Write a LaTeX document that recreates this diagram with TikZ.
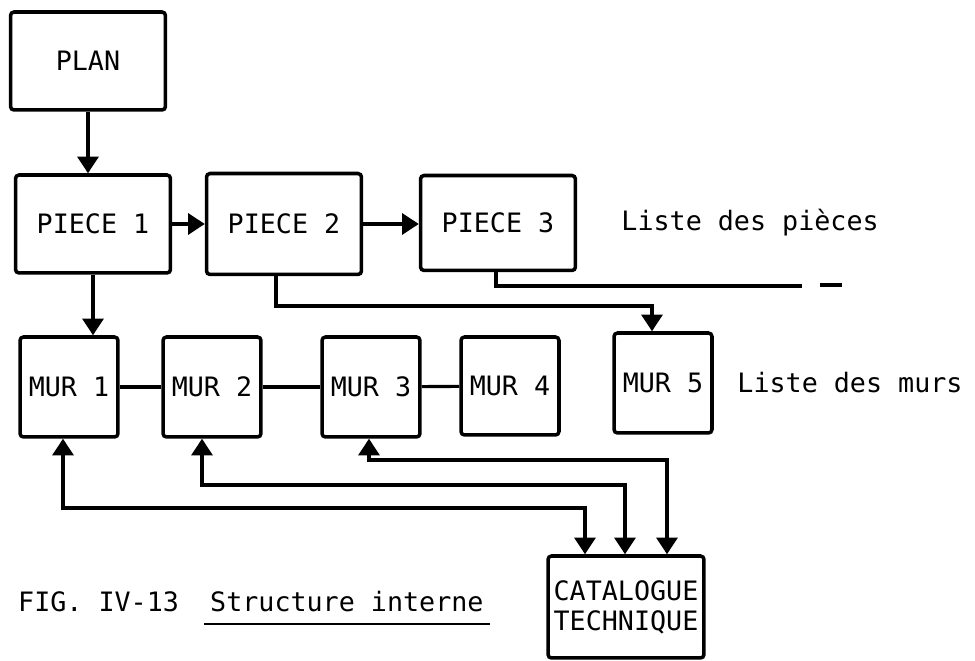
\documentclass[tikz,border=0pt]{standalone}
\usepackage{fontspec}
\setmonofont{DejaVu Sans Mono}
\usepackage{tikz}
\usetikzlibrary{arrows.meta,positioning,calc}
\tikzset{
  >={Triangle[length=9.5pt,width=12pt]},
  block/.style={rectangle,draw,line width=2pt,rounded corners=2pt,minimum width=3.1cm,minimum height=1.96cm},
  wall/.style={block,minimum width=1.96cm,minimum height=2cm},
  link/.style={line width=1.8pt},
  edge/.style={link,->},
  both/.style={link,<->},
  label/.style={anchor=west}
}

\begin{document}
\begin{tikzpicture}[x=0.02cm,y=-0.02cm,font=\ttfamily\fontsize{15.2}{17}\selectfont]
  \useasboundingbox (0,0) rectangle (975,661);

  % Plan and list of rooms
  \node[block] (plan) at (88,61) {PLAN};
  \node[block] (piece1) at (93,224) {PIECE 1};
  \node[block,minimum height=2.02cm] (piece2) at (284,224) {PIECE 2};
  \node[block,minimum height=1.9cm] (piece3) at (498,223) {PIECE 3};
  \node[label,right=0.76cm of piece3] (pieces) {Liste des pi\`eces};

  % List of walls
  \node[wall] (mur1) at (69,387) {MUR 1};
  \node[wall] (mur2) at (212,387) {MUR 2};
  \node[wall] (mur3) at (371,387) {MUR 3};
  \node[wall,minimum height=1.96cm] (mur4) at (510,386) {MUR 4};
  \node[wall] (mur5) at (663,383) {MUR 5};
  \node[label,right=0.35cm of mur5] (murs) {Liste des murs};

  % Catalogue
  \node[block,inner sep=2pt,minimum width=3.12cm,minimum height=2.04cm,align=center] (cat) at (626,607) {CATALOGUE\\TECHNIQUE};

  % Caption
  \node[label] (fig) at (12,602) {FIG. IV-13};
  \node[label] (title) at (204,602) {Structure interne};
  \draw[line width=1.2pt] ([yshift=-3pt]title.south west) -- ([yshift=-3pt]title.south east);

  % Links between rooms
  \draw[edge] (plan.south) -- (plan.south |- piece1.north);
  \draw[edge] (piece1) -- (piece2);
  \draw[edge] (piece2.east) -- (piece2.east -| piece3.west);
  \draw[edge] (piece1.south) -- (piece1.south |- mur1.north);
  \draw[edge] (piece2.south -| 276,0) |- (652,306) -- (652,0 |- mur5.north);
  \coordinate (tail) at (802,286);
  \draw[link] (piece3.south -| 496,0) |- (tail);
  \coordinate (dashA) at (820,285);
  \coordinate (dashB) at (842,285);
  \draw[link] (dashA) -- (dashB);

  % Links between walls
  \draw[link] (mur1) -- (mur2);
  \draw[link] (mur2) -- (mur3);
  \draw[link] (mur3) -- (mur4);

  % Walls and catalogue
  \draw[both] (mur1.south -| 63,0) |- (585,508) -- (585,0 |- cat.north);
  \draw[both] (mur2.south -| 202,0) |- (625,485) -- (625,0 |- cat.north);
  \draw[both] (mur3.south -| 369,0) |- (667,460) -- (667,0 |- cat.north);
\end{tikzpicture}
\end{document}
